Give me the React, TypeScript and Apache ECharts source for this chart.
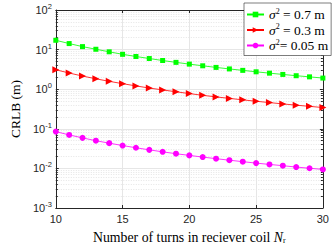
import React, { useEffect, useRef } from "react";
import * as echarts from "echarts";

const turns = [10, 11, 12, 13, 14, 15, 16, 17, 18, 19, 20, 21, 22, 23, 24, 25, 26, 27, 28, 29, 30];
const sigma07 = [17.2, 14.2, 11.9, 10.2, 8.8, 7.6, 6.7, 5.95, 5.3, 4.76, 4.3, 3.9, 3.55, 3.25, 2.99, 2.75, 2.54, 2.36, 2.19, 2.05, 1.91];
const sigma03 = [3.1, 2.56, 2.15, 1.83, 1.58, 1.38, 1.21, 1.07, 0.96, 0.86, 0.775, 0.7, 0.64, 0.586, 0.538, 0.496, 0.459, 0.425, 0.395, 0.369, 0.344];
const sigma005 = [0.085, 0.07, 0.059, 0.05, 0.0434, 0.0378, 0.0332, 0.0294, 0.0262, 0.0235, 0.0213, 0.0193, 0.0176, 0.0161, 0.0148, 0.0136, 0.0126, 0.0117, 0.0108, 0.0101, 0.0094];
const seriesNames = ["σ² = 0.7 m", "σ² = 0.3 m", "σ²= 0.05 m"];
const legendTexts = [" = 0.7 m", " = 0.3 m", "= 0.05 m"];

const AXIS = "#262626";
const SANS = "'Liberation Sans', Arial, sans-serif";
const SERIF = "'Liberation Serif', 'Times New Roman', serif";

export default function App() {
  const ref = useRef<HTMLDivElement>(null);
  useEffect(() => {
    if (!ref.current) return;
    const chart = echarts.init(ref.current, undefined, { renderer: "svg" });
    const logLabel = {
      color: AXIS,
      fontFamily: SANS,
      fontSize: 11,
      formatter: (v: number) => {
        const e = Math.round(Math.log10(v));
        return `{b|10}{e|${e}}`;
      },
      rich: {
        b: { fontSize: 11, fontFamily: SANS, color: AXIS },
        e: { fontSize: 7.5, fontFamily: SANS, color: AXIS, padding: [0, 0, 7, 0] },
      },
    };
    const common = {
      type: "line",
      data: [] as any[],
      lineStyle: { width: 0.8 },
      showSymbol: true,
    };
    chart.setOption({
      animation: false,
      backgroundColor: "#ffffff",
      grid: { left: 42, right: 6, top: 10, bottom: 36 },
      legend: {
        orient: "vertical",
        left: 244,
        top: 3,
        padding: [4, 3, 3, 2],
        itemGap: 1,
        itemWidth: 17,
        itemHeight: 7,
        backgroundColor: "#ffffff",
        borderColor: AXIS,
        borderWidth: 0.6,
        borderRadius: 0,
        data: seriesNames,
        formatter: (name: string) => {
          const i = seriesNames.indexOf(name);
          return `{s|σ}{p|2}{t|${legendTexts[i]}}`;
        },
        textStyle: {
          fontFamily: SERIF,
          fontSize: 13.5,
          color: "#000",
          rich: {
            s: { fontFamily: SERIF, fontSize: 13.5, fontStyle: "italic", color: "#000" },
            p: { fontFamily: SERIF, fontSize: 8, color: "#000", padding: [0, 0, 7, 0] },
            t: { fontFamily: SERIF, fontSize: 13.5, color: "#000" },
          },
        },
      },
      xAxis: [
        {
          type: "value",
          min: 10,
          max: 30,
          interval: 5,
          name: "{n|Number of turns in reciever coil }{i|N}{r|r}",
          nameLocation: "middle",
          nameGap: 22,
          nameTextStyle: {
            rich: {
              n: { fontFamily: SERIF, fontSize: 13.8, color: "#000" },
              i: { fontFamily: SERIF, fontSize: 13.8, fontStyle: "italic", color: "#000" },
              r: { fontFamily: SERIF, fontSize: 8, color: "#000", padding: [6, 0, 0, 0] },
            },
          },
          axisLine: { show: true, lineStyle: { color: AXIS, width: 1 } },
          axisTick: { show: true, inside: true, length: 3, lineStyle: { color: AXIS } },
          axisLabel: { color: AXIS, fontFamily: SANS, fontSize: 11, margin: 5 },
          splitLine: { show: true, lineStyle: { color: "#e6e6e6", width: 1 } },
        },
        {
          type: "value",
          position: "top",
          min: 10,
          max: 30,
          interval: 5,
          axisLine: { show: true, lineStyle: { color: AXIS, width: 1 } },
          axisTick: { show: true, inside: true, length: 3, lineStyle: { color: AXIS } },
          axisLabel: { show: false },
          splitLine: { show: false },
        },
      ],
      yAxis: [
        {
          type: "log",
          logBase: 10,
          min: 0.001,
          max: 100,
          name: "CRLB (m)",
          nameLocation: "middle",
          nameGap: 26,
          nameTextStyle: { fontFamily: SERIF, fontSize: 13.5, color: "#000" },
          axisLine: { show: true, lineStyle: { color: AXIS, width: 1 } },
          axisTick: { show: true, inside: true, length: 3, lineStyle: { color: AXIS } },
          minorTick: { show: true, splitNumber: 9, length: 2, lineStyle: { color: AXIS } },
          axisLabel: { ...logLabel, margin: 4 },
          splitLine: { show: true, lineStyle: { color: "#e6e6e6", width: 1 } },
          minorSplitLine: { show: true, lineStyle: { color: "#d4d4d4", width: 0.6, type: [1, 1.5] } },
        },
        {
          type: "log",
          logBase: 10,
          position: "right",
          min: 0.001,
          max: 100,
          axisLine: { show: true, lineStyle: { color: AXIS, width: 1 } },
          axisTick: { show: true, inside: true, length: 3, lineStyle: { color: AXIS } },
          minorTick: { show: true, splitNumber: 9, length: 2, lineStyle: { color: AXIS } },
          axisLabel: { show: false },
          splitLine: { show: false },
        },
      ],
      series: [
        {
          ...common,
          name: seriesNames[0],
          data: turns.map((t, i) => [t, sigma07[i]]),
          color: "#00ff00",
          symbol: "rect",
          symbolSize: 5,
        },
        {
          ...common,
          name: seriesNames[1],
          data: turns.map((t, i) => [t, sigma03[i]]),
          color: "#ff0000",
          symbol: "triangle",
          symbolRotate: -90,
          symbolSize: 7,
        },
        {
          ...common,
          name: seriesNames[2],
          data: turns.map((t, i) => [t, sigma005[i]]),
          color: "#ff00ff",
          symbol: "circle",
          symbolSize: 6,
        },
      ],
    });
    return () => chart.dispose();
  }, []);
  return <div ref={ref} style={{ width: 332, height: 249, position: "absolute", left: 0, top: 0 }} />;
}
